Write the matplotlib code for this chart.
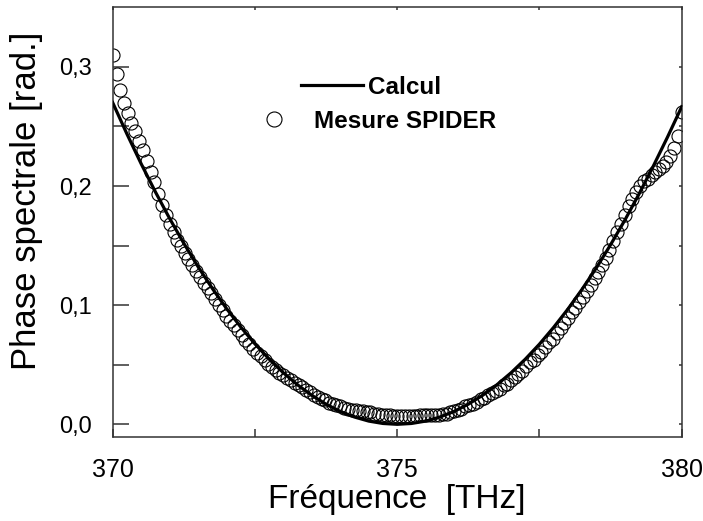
import numpy as np
import matplotlib
matplotlib.use("Agg")
import matplotlib.pyplot as plt
from matplotlib.ticker import FixedLocator

plt.rcParams['font.family'] = ['Liberation Sans', 'DejaVu Sans']

# calculated spectral phase (line)
f_calc = [370.0, 370.25, 370.5, 370.75, 371.0, 371.25, 371.5, 371.75, 372.0, 372.25,
          372.5, 372.75, 373.0, 373.25, 373.5, 373.75, 374.0, 374.25, 374.5, 374.75,
          375.0, 375.25, 375.5, 375.75, 376.0, 376.25, 376.5, 376.75, 377.0, 377.25,
          377.5, 377.75, 378.0, 378.25, 378.5, 378.75, 379.0, 379.25, 379.5, 379.75, 380.0]
phi_calc = [0.2700, 0.2437, 0.2187, 0.1951, 0.1728, 0.1519, 0.1323, 0.1141, 0.0972, 0.0817,
            0.0675, 0.0547, 0.0432, 0.0331, 0.0243, 0.0169, 0.0108, 0.0061, 0.0027, 0.0007,
            0.0000, 0.0007, 0.0027, 0.0061, 0.0108, 0.0169, 0.0243, 0.0331, 0.0432, 0.0546,
            0.0673, 0.0814, 0.0967, 0.1134, 0.1313, 0.1507, 0.1713, 0.1933, 0.2166, 0.2410, 0.2665]

# SPIDER measurement (circles)
f_mes = [
    370.00, 370.07, 370.13, 370.20, 370.27, 370.33, 370.40, 370.47, 370.53, 370.60, 370.67, 370.73, 370.80, 370.87, 370.93,
    371.00, 371.07, 371.13, 371.20, 371.27, 371.33, 371.40, 371.47, 371.53, 371.60, 371.67, 371.73, 371.80, 371.87, 371.93,
    372.00, 372.07, 372.13, 372.20, 372.27, 372.33, 372.40, 372.47, 372.53, 372.60, 372.67, 372.73, 372.80, 372.87, 372.93,
    373.00, 373.07, 373.13, 373.20, 373.27, 373.33, 373.40, 373.47, 373.53, 373.60, 373.67, 373.73, 373.80, 373.87, 373.93,
    374.00, 374.07, 374.13, 374.20, 374.27, 374.33, 374.40, 374.47, 374.53, 374.60, 374.67, 374.73, 374.80, 374.87, 374.93,
    375.00, 375.07, 375.13, 375.20, 375.27, 375.33, 375.40, 375.47, 375.53, 375.60, 375.67, 375.73, 375.80, 375.87, 375.93,
    376.00, 376.07, 376.13, 376.20, 376.27, 376.33, 376.40, 376.47, 376.53, 376.60, 376.67, 376.73, 376.80, 376.87, 376.93,
    377.00, 377.07, 377.13, 377.20, 377.27, 377.33, 377.40, 377.47, 377.53, 377.60, 377.67, 377.73, 377.80, 377.87, 377.93,
    378.00, 378.07, 378.13, 378.20, 378.27, 378.33, 378.40, 378.47, 378.53, 378.60, 378.67, 378.73, 378.80, 378.87, 378.93,
    379.00, 379.07, 379.13, 379.20, 379.27, 379.33, 379.40, 379.47, 379.53, 379.60, 379.67, 379.73, 379.80, 379.87, 379.93,
    380.00]
phi_mes = [
    0.310, 0.294, 0.281, 0.270, 0.261, 0.253, 0.246, 0.238, 0.230, 0.221, 0.212, 0.203, 0.193, 0.184, 0.176,
    0.168, 0.161, 0.155, 0.150, 0.144, 0.139, 0.134, 0.129, 0.124, 0.119, 0.114, 0.110, 0.105, 0.100, 0.096,
    0.091, 0.087, 0.083, 0.079, 0.075, 0.071, 0.067, 0.063, 0.060, 0.057, 0.054, 0.051, 0.048, 0.046, 0.043,
    0.041, 0.039, 0.037, 0.035, 0.033, 0.031, 0.029, 0.027, 0.025, 0.023, 0.021, 0.020, 0.018, 0.017, 0.016,
    0.015, 0.014, 0.013, 0.012, 0.012, 0.011, 0.011, 0.010, 0.010, 0.009, 0.009, 0.008, 0.008, 0.008, 0.007,
    0.007, 0.007, 0.007, 0.007, 0.007, 0.007, 0.008, 0.008, 0.008, 0.008, 0.008, 0.008, 0.009, 0.009, 0.010,
    0.011, 0.012, 0.013, 0.015, 0.016, 0.017, 0.019, 0.021, 0.022, 0.025, 0.026, 0.028, 0.030, 0.033, 0.034,
    0.037, 0.040, 0.042, 0.045, 0.049, 0.052, 0.054, 0.058, 0.061, 0.065, 0.069, 0.072, 0.077, 0.081, 0.085,
    0.089, 0.094, 0.098, 0.103, 0.107, 0.112, 0.117, 0.123, 0.128, 0.134, 0.140, 0.146, 0.154, 0.161, 0.168,
    0.176, 0.183, 0.189, 0.195, 0.200, 0.204, 0.206, 0.209, 0.212, 0.214, 0.217, 0.220, 0.225, 0.232, 0.242,
    0.262]

xticks = [370, 375, 380]
xtick_labels = ["370", "375", "380"]
xminor = [372.5, 377.5]
yticks = [0.0, 0.1, 0.2, 0.3]
ytick_labels = ["0,0", "0,1", "0,2", "0,3"]
yminor = [0.05, 0.15, 0.25]

fig = plt.figure(figsize=(7.03, 5.21), dpi=100)
ax = fig.add_axes([0.1603, 0.1618, 0.8094, 0.8242])

ax.plot(f_mes, phi_mes, "o", mfc="none", mec="black", ms=9.4, mew=0.8, label="Mesure SPIDER", zorder=2)
ax.plot(f_calc, phi_calc, "-", color="black", lw=2.3, label="Calcul", zorder=3)

ax.set_xlim(370, 380)
ax.set_ylim(-0.0104, 0.35)

ax.set_xticks(xticks)
ax.set_xticklabels(xtick_labels)
ax.xaxis.set_minor_locator(FixedLocator(xminor))
ax.set_yticks(yticks)
ax.set_yticklabels(ytick_labels)
ax.yaxis.set_minor_locator(FixedLocator(yminor))

tc = "#333333"
ax.tick_params(axis="x", which="both", direction="in", length=6, width=1.1, color=tc,
               labelsize=18, pad=15, top=False)
ax.tick_params(axis="y", which="both", direction="in", length=11.5, width=1.1, color=tc,
               labelsize=17, pad=15, right=False)
for s in ax.spines.values():
    s.set_linewidth(1.1)
    s.set_color(tc)

# short ticks on the top and right sides
top = ax.secondary_xaxis("top")
top.xaxis.set_ticks([370, 372.5, 375, 377.5, 380])
top.tick_params(direction="in", length=2.5, width=1.1, color=tc, labeltop=False)
top.spines["top"].set_visible(False)
right = ax.secondary_yaxis("right")
right.yaxis.set_ticks([0.0, 0.05, 0.1, 0.15, 0.2, 0.25, 0.3])
right.tick_params(direction="in", length=2.5, width=1.1, color=tc, labelright=False)
right.spines["right"].set_visible(False)

ax.set_xlabel("Fréquence  [THz]", fontsize=24, labelpad=2)
ax.set_ylabel("Phase spectrale [rad.]", fontsize=25)
ax.yaxis.set_label_coords(-0.122, 0.55)

h, l = ax.get_legend_handles_labels()
leg1 = ax.legend([h[1]], [l[1]], loc="center left", bbox_to_anchor=(0.331, 0.814),
                 frameon=False, borderpad=0, borderaxespad=0, handlelength=2.55,
                 handletextpad=0.2, prop={"weight": "bold", "size": 17.5})
ax.add_artist(leg1)
ax.legend([h[0]], [l[0]], loc="center left", bbox_to_anchor=(0.220, 0.735),
          frameon=False, borderpad=0, borderaxespad=0, handlelength=2.95,
          handletextpad=0.2, markerscale=1.15, prop={"weight": "bold", "size": 17.5})

fig.savefig("out.png", dpi=100)
